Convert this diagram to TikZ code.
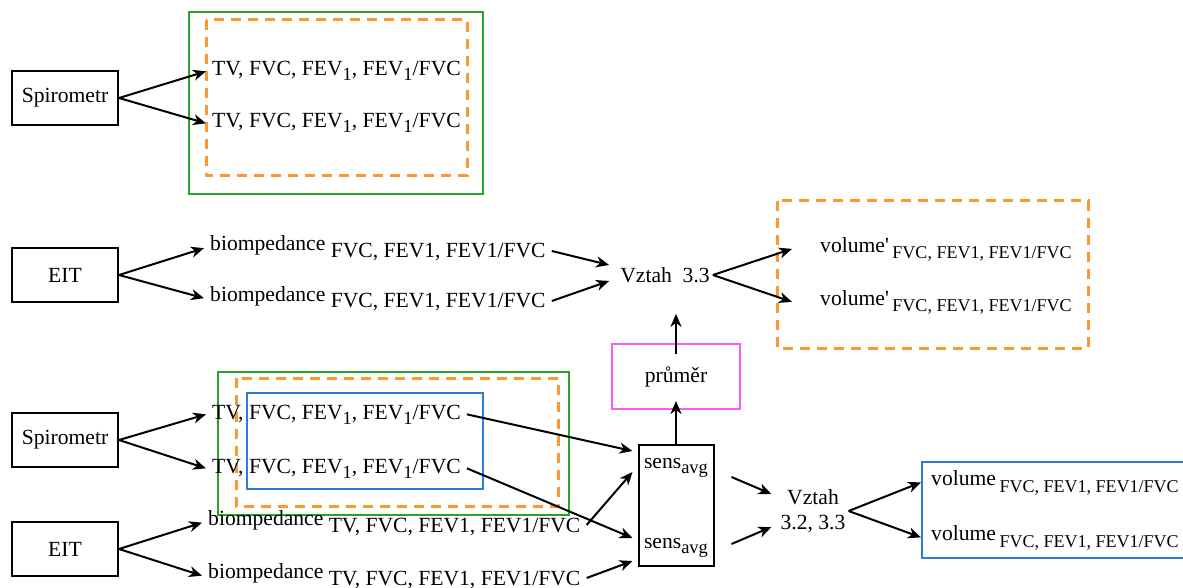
\documentclass[tikz,border=0pt]{standalone}
\usepackage{fontspec}
\setmainfont{Liberation Serif}
\usepackage{tikz}
\usetikzlibrary{arrows.meta}
\definecolor{frameGreen}{RGB}{40,165,40}
\definecolor{frameOrange}{RGB}{255,150,50}
\definecolor{frameBlue}{RGB}{45,125,210}
\definecolor{framePink}{RGB}{255,90,255}
\newcommand*{\lo}[1]{\raisebox{-5pt}{\fontsize{18.5}{18.5}\selectfont #1}}
\newcommand*{\spiro}{TV, FVC, FEV\lo{1}, FEV\lo{1}/FVC}
\newcommand*{\smv}[1]{\fontsize{18}{18}\selectfont #1}
\tikzstyle{box}=[rectangle,draw=black,line width=2pt,minimum width=106pt,minimum height=54pt]
\tikzstyle{txt}=[inner sep=6pt,anchor=base west]
\tikzstyle{lbl}=[inner sep=3pt]
\tikzset{flow/.style={-{Stealth[length=13pt,width=11pt,inset=4pt]},line width=2pt},
  grn/.style={draw=frameGreen,line width=2pt},
  orng/.style={draw=frameOrange,line width=3pt,dash pattern=on 10pt off 7pt},
  blu/.style={draw=frameBlue,line width=2.2pt}
}

\begin{document}
\begin{tikzpicture}[x=1pt,y=-1pt,font=\fontsize{21.6}{25}\selectfont]
  \useasboundingbox (0,0) rectangle (1183,588);

  % spirometr, top
  \draw[grn] (189,12) rectangle (483,194);
  \draw[orng] (206,20) rectangle (467,176);
  \node[box] (spiroA) at (65,98) {Spirometr};
  \node[txt] (tvA1) at (206,76) {\spiro};
  \node[txt] (tvA2) at (206,128) {\spiro};
  \draw[flow] (spiroA.east) -- (tvA1.west);
  \draw[flow] (spiroA.east) -- (tvA2.west);

  % EIT, middle
  \node[box] (eitA) at (65,275) {EIT};
  \node[txt] (bioA1) at (204,251) {biompedance \raisebox{-6pt}{FVC, FEV1, FEV1/FVC}};
  \node[txt] (bioA2) at (204,301) {biompedance \raisebox{-6pt}{FVC, FEV1, FEV1/FVC}};
  \node[lbl] (vztahA) at (665,275) {Vztah\ \ 3.3};
  \draw[orng] (777,201) rectangle (1088,348);
  \node[txt] (volA1) at (814,252) {volume\textquotesingle\,\raisebox{-6pt}{\smv{FVC, FEV1, FEV1/FVC}}};
  \node[txt] (volA2) at (814,305) {volume\textquotesingle\,\raisebox{-6pt}{\smv{FVC, FEV1, FEV1/FVC}}};
  \draw[flow] (eitA.east) -- (bioA1.west);
  \draw[flow] (eitA.east) -- (bioA2.west);
  \draw[flow] (bioA1.base east) -- ([shift={(-8,-10)}]vztahA.west);
  \draw[flow] (bioA2.base east) -- ([shift={(-8,6)}]vztahA.west);
  \draw[flow] (vztahA.east) -- ([xshift=-22pt]volA1.west);
  \draw[flow] (vztahA.east) -- ([xshift=-22pt]volA2.west);

  \node[draw=framePink,line width=2pt,minimum width=128pt,minimum height=65pt] (prumer) at (676,376.5) {průměr};

  % spirometr + EIT, bottom
  \draw[grn] (218,372) rectangle (569,515);
  \draw[orng] (236,378) rectangle (558,506);
  \draw[blu] (247,393) rectangle (483,489);
  \node[box] (spiroB) at (65,440) {Spirometr};
  \node[box] (eitB) at (65,549) {EIT};
  \node[txt] (tvB1) at (206,419) {\spiro};
  \node[txt] (tvB2) at (206,473) {\spiro};
  \node[txt] (bioB1) at (202,525) {biompedance \raisebox{-7pt}{TV, FVC, FEV1, FEV1/FVC}};
  \node[txt] (bioB2) at (202,578) {biompedance \raisebox{-7pt}{TV, FVC, FEV1, FEV1/FVC}};
  \draw[flow] (spiroB.east) -- (tvB1.west);
  \draw[flow] (spiroB.east) -- (tvB2.west);
  \draw[flow] (eitB.east) -- (bioB1.west);
  \draw[flow] (eitB.east) -- (bioB2.west);

  \node[draw,line width=2pt,minimum width=75pt,minimum height=121pt] (sens) at (676,505.5) {};
  \node[lbl] (sensT) at (676,467.5) {sens\lo{avg}};
  \node[lbl] (sensB) at (676,547.5) {sens\lo{avg}};
  \draw[flow] (tvB1.east) -- ([shift={(-5,7)}]sens.north west);
  \draw[flow] (bioB1.base east) -- ([shift={(-5,28)}]sens.north west);
  \draw[flow] (tvB2.east) -- ([shift={(-5,-29)}]sens.south west);
  \draw[flow] (bioB2.base east) -- ([shift={(-5,-6)}]sens.south west);
  \draw[flow] (sens.north) -- ([yshift=9pt]prumer.south);
  \draw[flow] ([yshift=-11pt]prumer.north) -- ([yshift=-28pt]prumer.north |- vztahA.south);

  \node[lbl,align=center] (vztahB) at (813,511) {Vztah\\3.2, 3.3};
  \draw[flow] ([shift={(17,33)}]sens.north east) -- ([shift={(-6,-17)}]vztahB.west);
  \draw[flow] ([shift={(17,-23)}]sens.south east) -- ([shift={(-6,16)}]vztahB.west);
  \draw[blu] (922,462) rectangle (1195,558);
  \node[txt] (volB1) at (925,485) {volume\,\raisebox{-7pt}{\smv{FVC, FEV1, FEV1/FVC}}};
  \node[txt] (volB2) at (925,540) {volume\,\raisebox{-7pt}{\smv{FVC, FEV1, FEV1/FVC}}};
  \draw[flow] (vztahB.east) -- ([xshift=-4pt]volB1.west);
  \draw[flow] (vztahB.east) -- ([xshift=-4pt]volB2.west);
\end{tikzpicture}
\end{document}
